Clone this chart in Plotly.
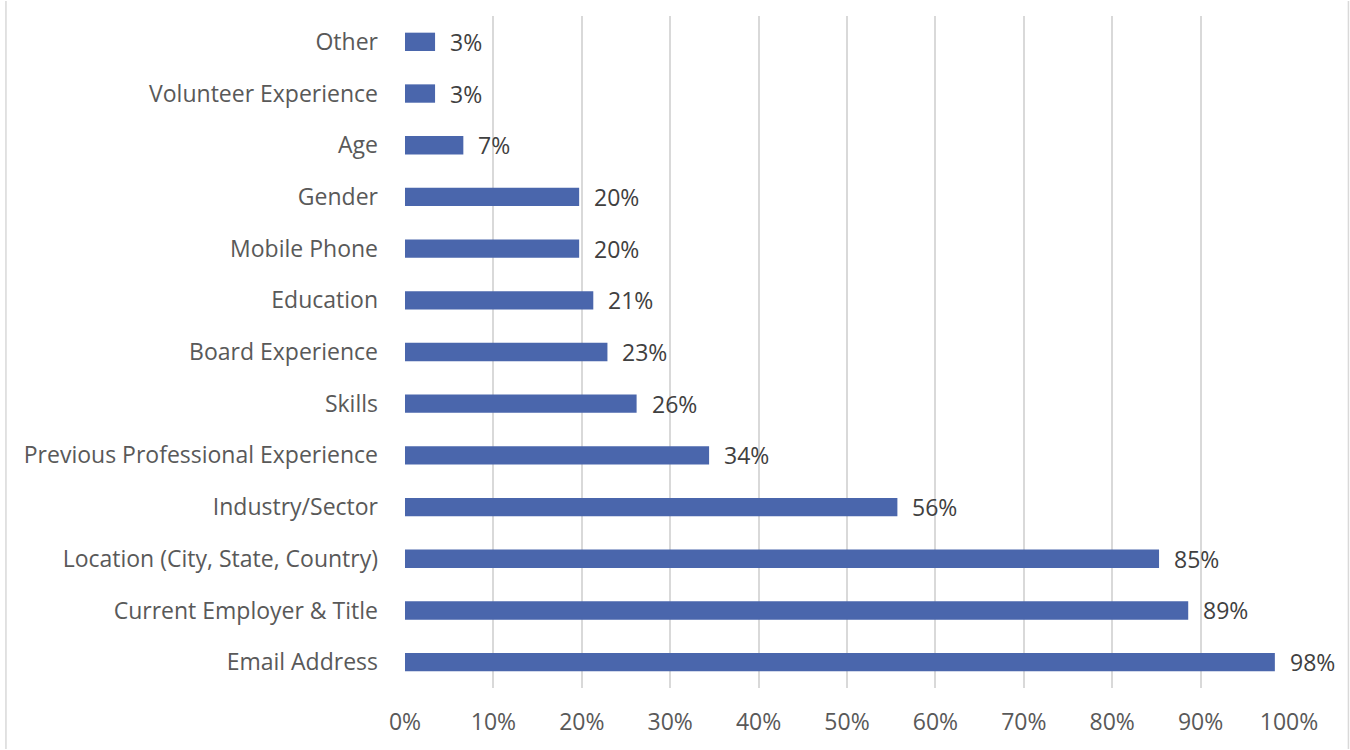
import plotly.graph_objects as go

categories = ["Other", "Volunteer Experience", "Age", "Gender", "Mobile Phone", "Education",
              "Board Experience", "Skills", "Previous Professional Experience", "Industry/Sector",
              "Location (City, State, Country)", "Current Employer & Title", "Email Address"]
values = [3.4, 3.4, 6.6, 19.7, 19.7, 21.3, 22.9, 26.2, 34.4, 55.7, 85.3, 88.6, 98.4]
labels = ["3%", "3%", "7%", "20%", "20%", "21%", "23%", "26%", "34%", "56%", "85%", "89%", "98%"]
tick_vals = [0, 10, 20, 30, 40, 50, 60, 70, 80, 90, 100]
tick_text = ["0%", "10%", "20%", "30%", "40%", "50%", "60%", "70%", "80%", "90%", "100%"]

FONT = "Open Sans"
FS = 23
fig = go.Figure()
fig.add_trace(go.Bar(
    y=categories, x=values, orientation="h", width=0.355,
    marker=dict(color="#4A66AC", line=dict(width=0)),
    hoverinfo="skip",
))
for c, v, t in zip(categories, values, labels):
    fig.add_annotation(x=v, y=c, text=t, xref="x", yref="y", xanchor="left",
                       showarrow=False, xshift=13,
                       font=dict(family=FONT, size=FS, color="#404040"))

L, R, T, B = 404.5, 1289.5, 16, 688
W, H = 1350, 750
pw, ph = R - L, B - T
for px in (5, 1349):
    xp = (px - L) / pw
    fig.add_shape(type="line", xref="paper", yref="paper", x0=xp, x1=xp,
                  y0=(B - 749) / ph, y1=(B - 1) / ph,
                  line=dict(color="#D9D9D9", width=1.5))

fig.update_layout(
    width=W, height=H,
    margin=dict(l=L, r=W - R, t=T, b=H - B, pad=0),
    paper_bgcolor="white", plot_bgcolor="white",
    showlegend=False,
    font=dict(family=FONT, size=FS, color="#595959"),
    xaxis=dict(range=[0, 100], tickvals=tick_vals, ticktext=tick_text,
               showgrid=True, gridcolor="#D9D9D9", gridwidth=1.5,
               zeroline=False, showline=False, ticks="",
               ticklabelstandoff=18,
               tickfont=dict(family=FONT, size=FS, color="#595959")),
    yaxis=dict(autorange="reversed", showgrid=False, zeroline=False,
               showline=False, ticks="", ticklabelstandoff=26,
               tickfont=dict(family=FONT, size=FS, color="#595959")),
)
fig.write_html("out.html")
